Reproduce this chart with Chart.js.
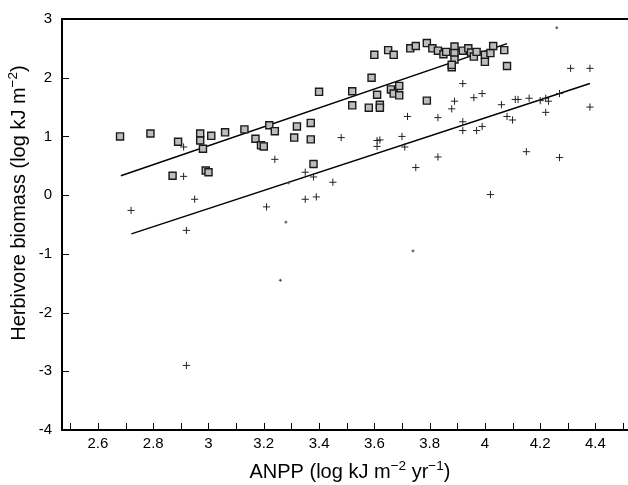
<!DOCTYPE html>
<html>
<head>
<meta charset="utf-8">
<script src="https://cdn.jsdelivr.net/npm/chart.js@4.4.1/dist/chart.umd.min.js"></script>
<style>
  html, body { margin: 0; padding: 0; background: #fff; overflow: hidden; }
  #wrap { width: 640px; height: 485px; }
</style>
</head>
<body>
<div id="wrap"><canvas id="c" width="640" height="485"></canvas></div>
<script>
// ---- data ----
const squaresX = [2.68,2.79,2.89,2.87,2.97,2.97,2.98,3.01,2.99,3.00,3.06,3.13,3.17,3.19,3.20,3.22,3.24,3.32,3.31,3.37,3.37,3.38,3.40,
  3.60,3.65,3.67,3.73,3.75,3.79,3.81,3.83,3.85,3.86,3.89,3.89,3.89,3.88,3.88,3.92,3.94,3.95,3.96,3.97,4.00,4.00,4.02,4.03,4.07,4.08,
  3.59,3.52,3.52,3.58,3.61,3.62,3.62,3.66,3.67,3.69,3.69,3.79];
const squaresY = [1.00,1.05,0.91,0.33,1.05,0.93,0.79,1.01,0.42,0.39,1.07,1.12,0.96,0.85,0.83,1.19,1.09,1.17,0.98,1.23,0.95,0.53,1.76,
  2.39,2.47,2.39,2.50,2.54,2.59,2.50,2.46,2.40,2.44,2.53,2.42,2.31,2.18,2.22,2.46,2.50,2.43,2.36,2.44,2.39,2.27,2.42,2.54,2.47,2.20,
  2.00,1.77,1.53,1.49,1.71,1.54,1.49,1.80,1.73,1.86,1.70,1.61];

const crossesX = [2.91,2.91,2.72,2.95,2.92,3.24,3.35,3.38,3.45,3.21,3.35,3.39,2.92,
  4.31,4.38,4.38,3.92,3.96,3.99,3.89,3.88,4.06,4.11,4.12,4.16,4.20,4.22,4.23,4.27,
  4.08,4.10,4.22,3.72,3.83,3.92,3.92,3.97,3.99,3.48,3.61,3.62,3.61,3.70,3.71,3.83,3.75,4.15,4.27,4.02];
const crossesY = [0.82,0.32,-0.26,-0.07,-0.60,0.61,0.39,0.31,0.22,-0.20,-0.07,-0.03,-2.90,
  2.16,2.16,1.50,1.90,1.66,1.73,1.60,1.47,1.54,1.63,1.63,1.65,1.61,1.65,1.60,1.73,
  1.34,1.28,1.41,1.34,1.32,1.25,1.10,1.10,1.17,0.98,0.93,0.94,0.83,1.00,0.82,0.65,0.47,0.74,0.64,0.01];

const faintX = [3.29,3.28,3.26,3.74,4.26];
const faintY = [0.21,-0.46,-1.45,-0.95,2.85];

const fitSquaresX = [2.683, 4.08];
const fitSquaresY = [0.33, 2.58];
const fitCrossesX = [2.721, 4.38];
const fitCrossesY = [-0.66, 1.90];

const xTickLabels = [2.6,2.8,3.0,3.2,3.4,3.6,3.8,4.0,4.2,4.4];
const xMinorTicks = [2.5,2.6,2.7,2.8,2.9,3.0,3.1,3.2,3.3,3.4,3.5,3.6,3.7,3.8,3.9,4.0,4.1,4.2,4.3,4.4,4.5];
const yTickLabels = [-4,-3,-2,-1,0,1,2,3];

const xTitleParts = [["ANPP (log kJ m",0],["\u22122",1],[" yr",0],["\u22121",1],[")",0]];
const yTitleParts = [["Herbivore biomass (log kJ m",0],["\u22122",1],[")",0]];

const toPts = (xs, ys) => xs.map((v, i) => ({x: v, y: ys[i]}));

const FONT = '"Liberation Sans", Arial, Helvetica, sans-serif';

function richWidth(ctx, parts, size) {
  let w = 0;
  parts.forEach(([t, sup]) => {
    ctx.font = (sup ? size * 0.68 : size) + 'px ' + FONT;
    w += ctx.measureText(t).width;
  });
  return w;
}
function drawRich(ctx, parts, size, x0, base) {
  let x = x0;
  parts.forEach(([t, sup]) => {
    ctx.font = (sup ? size * 0.68 : size) + 'px ' + FONT;
    ctx.fillText(t, x, sup ? base - size * 0.42 : base);
    x += ctx.measureText(t).width;
  });
}

const framePlugin = {
  id: 'frame',
  afterDraw(chart) {
    const {ctx, chartArea: a} = chart;
    const xs = chart.scales.x, ys = chart.scales.y;
    ctx.save();
    ctx.strokeStyle = '#000';
    ctx.lineWidth = 2;
    ctx.beginPath();
    ctx.moveTo(a.left - 1, a.top);
    ctx.lineTo(a.right, a.top);
    ctx.stroke();
    ctx.lineWidth = 1;
    ctx.beginPath();
    xMinorTicks.forEach(v => {
      const p = Math.round(xs.getPixelForValue(v)) + 0.5;
      ctx.moveTo(p, a.bottom);
      ctx.lineTo(p, a.bottom - 7);
    });
    yTickLabels.forEach(v => {
      const p = Math.round(ys.getPixelForValue(v)) + 0.5;
      ctx.moveTo(a.left, p);
      ctx.lineTo(a.left + 7, p);
    });
    ctx.stroke();

    // axis titles
    ctx.fillStyle = '#000';
    ctx.textBaseline = 'alphabetic';
    ctx.textAlign = 'left';
    const size = 20;
    const wx = richWidth(ctx, xTitleParts, size);
    drawRich(ctx, xTitleParts, size, 350 - wx / 2, 478);
    const wy = richWidth(ctx, yTitleParts, size);
    ctx.translate(25, 203);
    ctx.rotate(-Math.PI / 2);
    drawRich(ctx, yTitleParts, size, -wy / 2, 0);
    ctx.restore();
  }
};

new Chart(document.getElementById('c'), {
  type: 'scatter',
  data: {
    datasets: [
      {
        label: 'fit squares', type: 'line', data: toPts(fitSquaresX, fitSquaresY),
        borderColor: '#000', borderWidth: 1.5, pointRadius: 0, fill: false, order: 3
      },
      {
        label: 'fit crosses', type: 'line', data: toPts(fitCrossesX, fitCrossesY),
        borderColor: '#000', borderWidth: 1.5, pointRadius: 0, fill: false, order: 3
      },
      {
        label: 'crosses', data: toPts(crossesX, crossesY),
        pointStyle: 'cross', pointRadius: 3.6, borderColor: '#222', borderWidth: 1, order: 2
      },
      {
        label: 'faint', data: toPts(faintX, faintY),
        pointStyle: 'cross', pointRadius: 1.5, borderColor: '#444', borderWidth: 1, order: 2
      },
      {
        label: 'squares', data: toPts(squaresX, squaresY),
        pointStyle: 'rect', pointRadius: 5, backgroundColor: '#bdbdbd', borderColor: '#1a1a1a',
        borderWidth: 1.4, order: 1
      }
    ]
  },
  options: {
    responsive: false,
    animation: false,
    devicePixelRatio: 1,
    layout: { padding: { left: 0, right: 4, top: 16, bottom: 0 } },
    plugins: { legend: { display: false }, tooltip: { enabled: false } },
    scales: {
      x: {
        type: 'linear', min: 2.47, max: 4.538,
        afterBuildTicks: s => { s.ticks = xTickLabels.map(v => ({value: v})); },
        afterFit: s => { s.height = 55; },
        grid: { display: true, drawOnChartArea: false, drawTicks: false },
        border: { display: true, color: '#000', width: 2 },
        ticks: {
          padding: 5, color: '#000', maxRotation: 0, autoSkip: false,
          font: { family: FONT, size: 15 },
          callback: v => String(Math.round(v * 10) / 10)
        }
      },
      y: {
        type: 'linear', min: -4, max: 3,
        afterBuildTicks: s => { s.ticks = yTickLabels.map(v => ({value: v})); },
        afterFit: s => { s.width = 62; },
        grid: { display: true, drawOnChartArea: false, drawTicks: false },
        border: { display: true, color: '#000', width: 2 },
        ticks: {
          padding: 10, color: '#000',
          font: { family: FONT, size: 15 },
          callback: v => String(v)
        }
      }
    }
  },
  plugins: [framePlugin]
});
</script>
</body>
</html>
